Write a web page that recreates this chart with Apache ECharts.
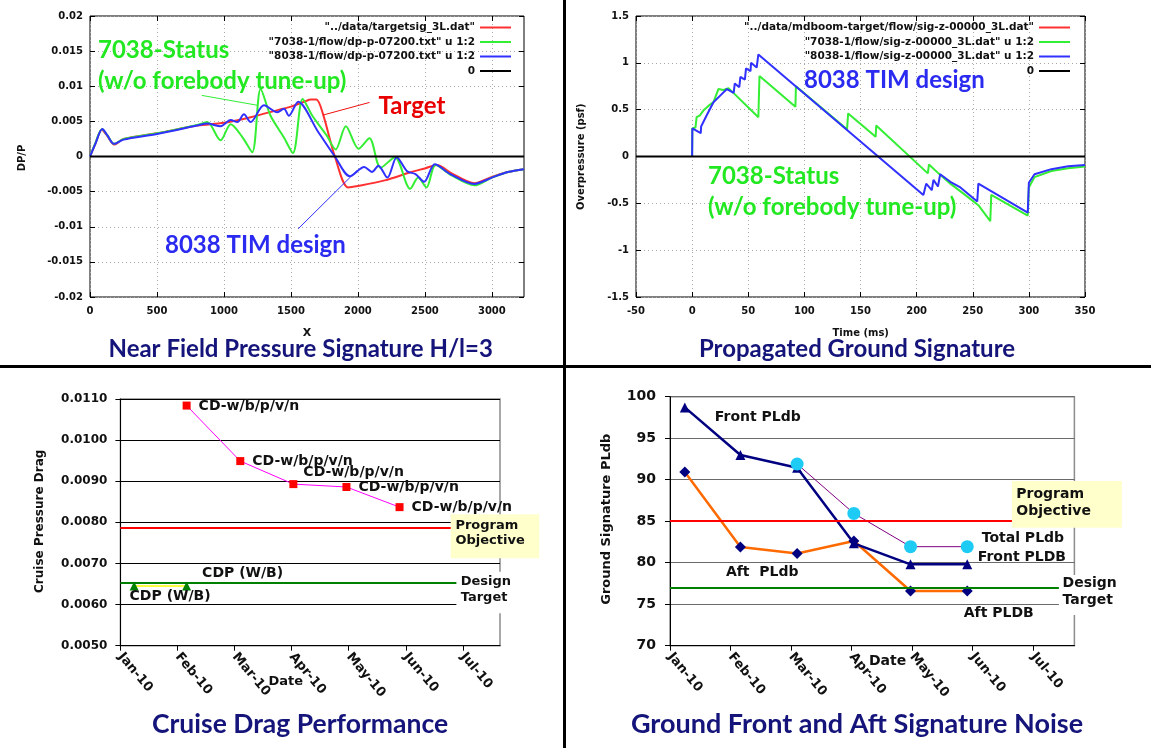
<!DOCTYPE html>
<html>
<head>
<meta charset="utf-8">
<script src="https://cdn.jsdelivr.net/npm/echarts@6/dist/echarts.min.js"></script>
<style>
  html, body { margin: 0; padding: 0; background: #fff; }
  #c { width: 1151px; height: 748px; }
</style>
</head>
<body>
<div id="c"></div>
<script>
// ---------- Near field pressure signature, DP/P vs X ----------
const nearXTicks = [0, 500, 1000, 1500, 2000, 2500, 3000];
const nearTarget = [[0,0],[40,0.0018],[88,0.0038],[130,0.0029],[181,0.0017],[250,0.0025],[500,0.0033],[800,0.0044],[1000,0.0048],[1200,0.0056],[1400,0.0066],[1500,0.0071],[1600,0.0078],[1650,0.0081],[1690,0.0081],[1740,0.006],[1828,0],[1927,-0.0044],[2000,-0.0042],[2200,-0.0034],[2400,-0.0022],[2500,-0.0017],[2590,-0.0012],[2700,-0.0024],[2870,-0.0038],[3000,-0.0029],[3120,-0.0022],[3240,-0.0018]];
const near7038 = [[0,0],[40,0.0019],[90,0.0039],[130,0.003],[180,0.0018],[250,0.0025],[500,0.0033],[800,0.0045],[875,0.0049],[975,0.0023],[1050,0.0046],[1140,0.0027],[1211,0.0006],[1274,0.0096],[1348,0.0058],[1448,0.0027],[1515,0.0005],[1588,0.0082],[1660,0.0058],[1767,0.003],[1834,0.001],[1910,0.0043],[2005,0.0011],[2086,0.0026],[2170,-0.0016],[2276,-0.0001],[2390,-0.0046],[2450,-0.003],[2512,-0.0044],[2580,-0.0012],[2700,-0.0027],[2870,-0.0041],[3000,-0.003],[3120,-0.0022],[3240,-0.0018]];
const near8038 = [[0,0],[40,0.0018],[92,0.0039],[130,0.003],[179,0.0018],[250,0.0024],[500,0.0032],[800,0.0044],[875,0.0047],[975,0.0043],[1050,0.0052],[1100,0.0049],[1149,0.006],[1199,0.0049],[1299,0.0073],[1398,0.0063],[1448,0.0068],[1485,0.0058],[1554,0.0078],[1700,0.0036],[1828,0],[1940,-0.0028],[2047,-0.0015],[2105,-0.0022],[2153,-0.0013],[2220,-0.003],[2290,-0.0001],[2367,-0.0021],[2430,-0.0025],[2494,-0.0036],[2574,-0.0011],[2690,-0.0025],[2870,-0.0039],[3000,-0.003],[3120,-0.0022],[3240,-0.0018]];
const nearNames = ['"../data/targetsig_3L.dat"', '"7038-1/flow/dp-p-07200.txt" u 1:2', '"8038-1/flow/dp-p-07200.txt" u 1:2', '0'];

// ---------- Propagated ground signature, overpressure vs time ----------
const groundTarget = [];
const ground7038 = [[0,0],[0.2,0.30],[3,0.31],[4,0.42],[7,0.44],[10,0.49],[14.5,0.54],[19,0.58],[23.4,0.72],[27.9,0.71],[32.4,0.73],[59,0.42],[60,0.86],[92,0.53],[92.5,0.75],[138,0.29],[139,0.46],[163.5,0.21],[164,0.33],[210,-0.18],[211,-0.085],[219.5,-0.18],[230,-0.29],[240,-0.38],[255,-0.52],[265.6,-0.69],[266.5,-0.41],[299,-0.63],[300,-0.33],[305,-0.22],[320,-0.155],[335,-0.125],[350,-0.107]];
const ground8038 = [[0,0],[0.2,0.30],[7.7,0.25],[8,0.32],[13,0.44],[19,0.58],[25,0.65],[31,0.72],[37,0.68],[38,0.78],[42,0.74],[43,0.85],[47,0.82],[48,0.94],[52,0.91],[52.5,1.0],[57.5,0.95],[59,1.09],[206,-0.41],[208.5,-0.29],[213.5,-0.36],[215,-0.25],[219,-0.32],[221,-0.19],[230,-0.27],[239,-0.33],[254,-0.48],[255,-0.29],[299,-0.60],[300,-0.28],[305,-0.19],[320,-0.135],[335,-0.105],[350,-0.09]];
const groundNames = ['"../data/mdboom-target/flow/sig-z-00000_3L.dat"', '"7038-1/flow/sig-z-00000_3L.dat" u 1:2', '"8038-1/flow/sig-z-00000_3L.dat" u 1:2', '0'];

// ---------- Month axis shared by the two progress charts (0 = Jan-10) ----------
const months = ['Jan-10', 'Feb-10', 'Mar-10', 'Apr-10', 'May-10', 'Jun-10', 'Jul-10'];
const monthTicks = [0, 1, 2, 3, 4, 5, 6];

// ---------- Cruise drag performance ----------
const cdDates = [1.16, 2.10, 3.03, 3.96, 4.89];
const cdValues = [0.01084, 0.00949, 0.00893, 0.00886, 0.00837];
const cdLabels = ['CD-w/b/p/v/n', 'CD-w/b/p/v/n', 'CD-w/b/p/v/n', 'CD-w/b/p/v/n', 'CD-w/b/p/v/n'];
const cdpDates = [0.24, 1.16];
const cdpValues = [0.00645, 0.00645];
const cdpLabels = ['CDP (W/B)', 'CDP (W/B)'];
const dragObjective = 0.00787;
const dragDesignTarget = 0.00653;

// ---------- Ground front and aft signature noise ----------
const noiseDates = [0.245, 1.163, 2.10, 3.037, 3.973, 4.91];
const frontPLdb = [98.71, 92.97, 91.45, 82.33, 79.8, 79.8];
const aftPLdb = [90.92, 81.89, 81.12, 82.61, 76.59, 76.59];
const totalDates = [2.10, 3.037, 3.973, 4.91];
const totalPLdb = [91.89, 85.94, 81.93, 81.93];
const frontLabels = ['Front PLdb', '', '', '', '', 'Front PLDB'];
const aftLabels = ['', 'Aft  PLdb', '', '', '', 'Aft PLDB'];
const totalLabels = ['', '', '', 'Total PLdb'];
const noiseObjective = 85;
const noiseDesignTarget = 77;

// ---------- styling helpers ----------
const MONO = 'DejaVu Sans';
const TITLE_FONT = 'Lato';
const NAVY = '#14147a';
const C_RED = '#ff3030', C_GREEN = '#33ee33', C_BLUE = '#3030ff';

const pairs = (xs, ys) => xs.map((x, i) => [x, ys[i]]);

function gnuAxes(gridIndex, dim, min, max, interval, labelFmt, customLabels) {
  const main = {
    gridIndex, type: 'value', min, max, interval,
    axisLine: { show: false, onZero: false },
    axisTick: { show: true, inside: true, length: 5, lineStyle: { color: '#000' } },
    axisLabel: { color: '#111', fontFamily: MONO, fontWeight: 'bold', fontSize: 10, margin: dim === 'x' ? 9 : 7,
                 formatter: labelFmt || (v => String(+v.toFixed(3))) },
    splitLine: { show: true, lineStyle: { color: '#a8a8a8', width: 1, type: [1, 3] } }
  };
  if (customLabels) {
    main.axisLabel.customValues = customLabels;
    main.axisTick.customValues = customLabels;
  }
  const mirror = {
    gridIndex, type: 'value', min, max, interval,
    position: dim === 'x' ? 'top' : 'right',
    axisLine: { show: false, onZero: false },
    axisTick: { show: true, inside: true, length: 5, lineStyle: { color: '#000' } },
    axisLabel: { show: false },
    splitLine: { show: false }
  };
  if (customLabels) mirror.axisTick.customValues = customLabels;
  return [main, mirror];
}

function gnuSeries(name, data, color, xi, yi, smooth) {
  return { name, type: 'line', xAxisIndex: xi, yAxisIndex: yi, data, color,
           showSymbol: false, symbol: 'none', smooth: smooth || false, animation: false,
           lineStyle: { color, width: 2 } };
}

function legendRows(names, colors, right, tops) {
  return names.map((n, i) => ({
    data: [n], right, top: tops[i], orient: 'horizontal', align: 'right',
    icon: 'rect', itemWidth: 31, itemHeight: 2, padding: 0, selectedMode: false,
    itemStyle: { color: colors[i] },
    textStyle: { color: '#111', fontFamily: MONO, fontWeight: 'bold', fontSize: 10.5 }
  }));
}

function txt(x, y, text, o) {
  o = o || {};
  return {
    type: 'text', x, y, z: 60, rotation: o.rotation || 0, silent: true,
    style: { text, fill: o.color || '#111', fontFamily: o.font || MONO,
             fontWeight: o.weight || 'bold', fontSize: o.size || 13,
             textAlign: o.align || 'left', textVerticalAlign: 'middle' }
  };
}

function excelMonthAxis(gridIndex, max, fontSize) {
  return {
    gridIndex, type: 'value', min: 0, max, interval: 1,
    axisLine: { show: true, onZero: false, lineStyle: { color: '#000', width: 1 } },
    axisTick: { show: true, length: 5, customValues: monthTicks, lineStyle: { color: '#000' } },
    axisLabel: { customValues: monthTicks, formatter: v => months[Math.round(v)] || '',
                 rotate: -50, margin: 9, color: '#111', fontFamily: MONO, fontWeight: 'bold', fontSize },
    splitLine: { show: false }
  };
}

const itemLabel = (text, offset, size) => ({
  show: !!text, formatter: text, position: 'right', offset,
  color: '#111', fontFamily: MONO, fontWeight: 'bold', fontSize: size
});

// horizontal reference level across a whole plot
const flatMark = (value, color) => ({
  silent: true, symbol: 'none', animation: false, precision: 6,
  label: { show: false },
  lineStyle: { color, width: 2, type: 'solid' },
  data: [{ yAxis: value }]
});

// thin leader line from an annotation to the curve it names
const pointer = (from, to, color) => ({
  silent: true, symbol: 'none', animation: false, precision: 6, label: { show: false },
  lineStyle: { color, width: 1, type: 'solid' },
  data: [[{ coord: from }, { coord: to }]]
});

// ---------- axes ----------
const xAxes = [
  ...gnuAxes(0, 'x', 0, 3240, 500, v => String(Math.round(v)), nearXTicks),
  ...gnuAxes(1, 'x', -50, 350, 50, v => String(Math.round(v))),
  excelMonthAxis(2, 6.65, 13),
  excelMonthAxis(3, 6.68, 13)
];
const yAxes = [
  ...gnuAxes(0, 'y', -0.02, 0.02, 0.005, v => (Math.abs(v) < 1e-12 ? '0' : String(+v.toFixed(3)))),
  ...gnuAxes(1, 'y', -1.5, 1.5, 0.5),
  {
    gridIndex: 2, type: 'value', min: 0.005, max: 0.011, interval: 0.001,
    axisLine: { show: true, onZero: false, lineStyle: { color: '#000' } },
    axisTick: { show: true, length: 5, lineStyle: { color: '#000' } },
    axisLabel: { formatter: v => v.toFixed(4), margin: 13, color: '#111', fontFamily: MONO, fontWeight: 'bold', fontSize: 12 },
    splitLine: { show: true, lineStyle: { color: '#000', width: 1 } }
  },
  {
    gridIndex: 3, type: 'value', min: 70, max: 100, interval: 5,
    axisLine: { show: true, onZero: false, lineStyle: { color: '#000' } },
    axisTick: { show: true, length: 5, lineStyle: { color: '#000' } },
    axisLabel: { margin: 14, color: '#111', fontFamily: MONO, fontWeight: 'bold', fontSize: 14 },
    splitLine: { show: true, lineStyle: { color: '#6a6a6a', width: 1.2 } }
  }
];

// ---------- series ----------
const series = [
  // near field
  gnuSeries(nearNames[0], nearTarget, C_RED, 0, 0, 0.3),
  Object.assign(gnuSeries(nearNames[1], near7038, C_GREEN, 0, 0, 0.3),
    { markLine: pointer([834, 0.0087], [1247, 0.0073], C_GREEN) }),
  Object.assign(gnuSeries(nearNames[2], near8038, C_BLUE, 0, 0, 0.3),
    { markLine: pointer([1554, -0.0103], [1993, -0.002], C_BLUE) }),
  Object.assign(gnuSeries(nearNames[3], [[0, 0], [3240, 0]], '#000', 0, 0),
    { markLine: pointer([1740, 0.0059], [2087, 0.0077], '#ee1111') }),
  // ground signature
  gnuSeries(groundNames[0], groundTarget, C_RED, 2, 2),
  gnuSeries(groundNames[1], ground7038, C_GREEN, 2, 2),
  gnuSeries(groundNames[2], ground8038, C_BLUE, 2, 2),
  gnuSeries(groundNames[3], [[-50, 0], [350, 0]], '#000', 2, 2),
  // cruise drag
  {
    name: 'CDP', type: 'line', xAxisIndex: 4, yAxisIndex: 4, animation: false,
    symbol: 'triangle', symbolSize: 9,
    lineStyle: { color: '#ffff00', width: 1.5 }, itemStyle: { color: '#008000' },
    markLine: flatMark(dragDesignTarget, '#008000'),
    data: pairs(cdpDates, cdpValues).map((v, i) => ({
      value: v, label: itemLabel(cdpLabels[i], i === 0 ? [-14, 10.5] : [6, -12.5], 14)
    }))
  },
  {
    name: 'CD', type: 'line', xAxisIndex: 4, yAxisIndex: 4, animation: false,
    symbol: 'rect', symbolSize: 8,
    lineStyle: { color: '#ff00ff', width: 1 }, itemStyle: { color: '#ff0000' },
    markLine: flatMark(dragObjective, '#ff0000'),
    data: pairs(cdDates, cdValues).map((v, i) => ({
      value: v, label: itemLabel(cdLabels[i], i === 2 ? [1, -11.5] : [3, 0.5], 14)
    }))
  },
  // signature noise
  {
    name: 'Aft', type: 'line', xAxisIndex: 5, yAxisIndex: 5, animation: false,
    symbol: 'diamond', symbolSize: 11,
    lineStyle: { color: '#ff6a00', width: 2.5 }, itemStyle: { color: '#000080' },
    markLine: flatMark(noiseDesignTarget, '#008000'),
    data: pairs(noiseDates, aftPLdb).map((v, i) => ({
      value: v, label: itemLabel(aftLabels[i], i === 1 ? [-25, 25] : [-14, 22.5], 14)
    }))
  },
  {
    name: 'Front', type: 'line', xAxisIndex: 5, yAxisIndex: 5, animation: false,
    symbol: 'triangle', symbolSize: 10,
    lineStyle: { color: '#000080', width: 2.5 }, itemStyle: { color: '#000080' },
    markLine: flatMark(noiseObjective, '#ff0000'),
    data: pairs(noiseDates, frontPLdb).map((v, i) => ({
      value: v, label: itemLabel(frontLabels[i], i === 0 ? [20, 10] : [0.5, -7.5], 14)
    }))
  },
  {
    name: 'Total', type: 'line', xAxisIndex: 5, yAxisIndex: 5, animation: false,
    symbol: 'circle', symbolSize: 13,
    lineStyle: { color: '#800080', width: 1 }, itemStyle: { color: '#1ecbf5' },
    data: pairs(totalDates, totalPLdb).map((v, i) => ({
      value: v, label: itemLabel(totalLabels[i], [3, -8.5], 14)
    }))
  }
];

// ---------- text, boxes, panel dividers ----------
const graphics = [
  // panel dividers
  { type: 'rect', z: 60, shape: { x: 563, y: 0, width: 3, height: 748 }, style: { fill: '#000' } },
  { type: 'rect', z: 60, shape: { x: 0, y: 365, width: 1151, height: 3 }, style: { fill: '#000' } },

  // near field annotations
  txt(98, 50, '7038-Status', { font: TITLE_FONT, size: 24, color: '#22e822' }),
  txt(98, 81, '(w/o forebody tune-up)', { font: TITLE_FONT, size: 24, color: '#22e822' }),
  txt(378.6, 106, 'Target', { font: TITLE_FONT, size: 24, color: '#e80000' }),
  txt(165, 245, '8038 TIM design', { font: TITLE_FONT, size: 24, color: '#2a2af0' }),
  txt(22, 158, 'DP/P', { size: 10, rotation: Math.PI / 2, align: 'center' }),
  txt(307, 333, 'X', { size: 11, align: 'center' }),
  txt(300.7, 349, 'Near Field Pressure Signature H/l=3', { font: TITLE_FONT, size: 24, color: NAVY, align: 'center' }),

  // ground signature annotations
  txt(804, 80, '8038 TIM design', { font: TITLE_FONT, size: 24, color: '#2a2af0' }),
  txt(708, 176.7, '7038-Status', { font: TITLE_FONT, size: 24, color: '#22e822' }),
  txt(708, 207.3, '(w/o forebody tune-up)', { font: TITLE_FONT, size: 24, color: '#22e822' }),
  txt(581, 156.7, 'Overpressure (psf)', { size: 10, rotation: Math.PI / 2, align: 'center' }),
  txt(860.7, 333, 'Time (ms)', { size: 10, align: 'center' }),
  txt(857, 349, 'Propagated Ground Signature', { font: TITLE_FONT, size: 24, color: NAVY, align: 'center' }),

  // cruise drag boxes and labels
  { type: 'rect', z: 55, shape: { x: 450.7, y: 514.3, width: 88.6, height: 44 }, style: { fill: '#ffffcc' } },
  txt(455.4, 525.7, 'Program', { size: 13 }),
  txt(455.4, 541, 'Objective', { size: 13 }),
  { type: 'rect', z: 55, shape: { x: 456.4, y: 571.7, width: 60, height: 41.6 }, style: { fill: '#fff' } },
  txt(460.7, 581.7, 'Design', { size: 13 }),
  txt(460.7, 597.3, 'Target', { size: 13 }),
  txt(40, 521.3, 'Cruise Pressure Drag', { size: 12, rotation: Math.PI / 2, align: 'center' }),
  txt(285.7, 681.7, 'Date', { size: 13, align: 'center' }),
  txt(300, 724, 'Cruise Drag Performance', { font: TITLE_FONT, size: 26.5, color: NAVY, align: 'center' }),

  // signature noise boxes and labels
  { type: 'rect', z: 55, shape: { x: 1011.9, y: 481, width: 110, height: 46.7 }, style: { fill: '#ffffcc' } },
  txt(1016.3, 494, 'Program', { size: 14 }),
  txt(1016.3, 511.7, 'Objective', { size: 14 }),
  { type: 'rect', z: 55, shape: { x: 1058.9, y: 575, width: 58, height: 40 }, style: { fill: '#fff' } },
  txt(1062.6, 583.3, 'Design', { size: 14 }),
  txt(1062.6, 600.3, 'Target', { size: 14 }),
  txt(607, 519.2, 'Ground Signature PLdb', { size: 13, rotation: Math.PI / 2, align: 'center' }),
  txt(869, 661.7, 'Date', { size: 14 }),
  txt(857, 724, 'Ground Front and Aft Signature Noise', { font: TITLE_FONT, size: 27, color: NAVY, align: 'center' })
];

const option = {
  backgroundColor: '#fff',
  animation: false,
  grid: [
    { left: 90, top: 16, width: 434, height: 281, show: true, borderColor: '#000', borderWidth: 1 },
    { left: 636, top: 16, width: 449, height: 281, show: true, borderColor: '#000', borderWidth: 1 },
    { left: 120.4, top: 399, width: 379.6, height: 246.7, show: true, borderColor: '#8c8c8c', borderWidth: 1.5 },
    { left: 670, top: 396.7, width: 404.4, height: 249, show: true, borderColor: '#8c8c8c', borderWidth: 1.5 }
  ],
  legend: [
    ...legendRows(nearNames, [C_RED, C_GREEN, C_BLUE, '#000'], 640, [22, 36.5, 51, 65.5]),
    ...legendRows(groundNames, [C_RED, C_GREEN, C_BLUE, '#000'], 81, [22, 36.5, 51, 65.5])
  ],
  xAxis: xAxes,
  yAxis: yAxes,
  series,
  graphic: graphics
};

const chart = echarts.init(document.getElementById('c'));
chart.setOption(option);
</script>
</body>
</html>
